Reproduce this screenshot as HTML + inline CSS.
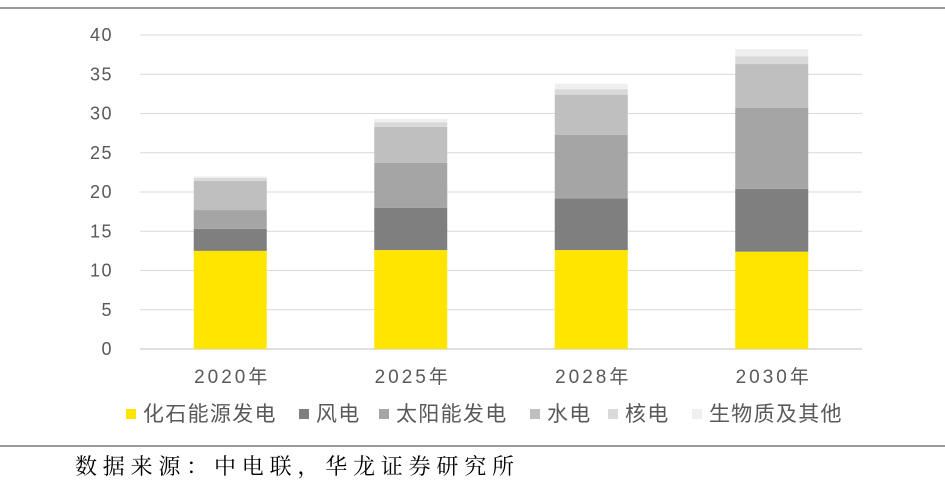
<!DOCTYPE html>
<html><head><meta charset="utf-8"><style>
body{margin:0;width:945px;height:485px;background:#fff;overflow:hidden;font-family:"Liberation Sans","Noto Sans CJK SC",sans-serif;}
</style></head><body>
<svg id="chart" width="945" height="485" xmlns="http://www.w3.org/2000/svg">
<line x1="0" y1="8" x2="945" y2="8" stroke="#333" stroke-width="1"/>
<line x1="0" y1="446" x2="945" y2="446" stroke="#333" stroke-width="1"/>
<g id="grid"></g><g id="bars"></g><g id="axis"></g><g id="legend"></g>
<text x="75" y="474" font-family="'Liberation Serif','Noto Serif CJK SC',serif" font-size="22" letter-spacing="5.8" fill="#000">数据来源：中电联，华龙证券研究所</text>
</svg>
<script>
const categories=["2020年","2025年","2028年","2030年"];
const seriesNames=["化石能源发电","风电","太阳能发电","水电","核电","生物质及其他"];
const fossil=[12.5,12.6,12.6,12.4];
const wind=[2.8,5.4,6.6,8.0];
const solar=[2.4,5.7,8.1,10.3];
const hydro=[3.7,4.6,5.1,5.6];
const nuclear=[0.4,0.6,0.7,1.0];
const biomass=[0.2,0.4,0.7,0.9];
const yTicks=[0,5,10,15,20,25,30,35,40];
const colors=["#FFE500","#7f7f7f","#a5a5a5","#bfbfbf","#d9d9d9","#efefef"];
const series=[fossil,wind,solar,hydro,nuclear,biomass];
const NS="http://www.w3.org/2000/svg";
const y0=349,yTop=35,yMax=40,x0=140,x1=862;
const y=v=>y0-(v/yMax)*(y0-yTop);
const band=(x1-x0)/categories.length, bw=73;
const xc=i=>x0+band*(i+0.5);
function mk(tag,attrs,parent){const e=document.createElementNS(NS,tag);for(const k in attrs)e.setAttribute(k,attrs[k]);parent.appendChild(e);return e;}
const grid=document.getElementById('grid'),bars=document.getElementById('bars'),axis=document.getElementById('axis'),legend=document.getElementById('legend');
yTicks.forEach(t=>{
 const l=mk('line',{x1:x0,x2:x1,y1:y(t),y2:y(t),stroke:t===0?'#bfbfbf':'#d9d9d9','stroke-width':1},grid);
 
 
 const tx=mk('text',{x:113,y:y(t)+6,'text-anchor':'end','font-size':18,'letter-spacing':1.5,fill:'#595959'},axis);
 tx.textContent=t;
 
 
});
categories.forEach((c,i)=>{
 let acc=0;
 series.forEach((s,j)=>{
  const r=mk('rect',{x:xc(i)-bw/2,y:y(acc+s[i]),width:bw,height:y(acc)-y(acc+s[i]),fill:colors[j]},bars);
  
  
  acc+=s[i];
 });
 const tx=mk('text',{x:xc(i)+2,y:383,'text-anchor':'middle','font-size':19,'letter-spacing':3,fill:'#595959'},axis);
 tx.textContent=c;
 
 
});
const lx=[126,299,379,530,608,692];
seriesNames.forEach((n,j)=>{
 const g=mk('g',{},legend);
 
 
 mk('rect',{x:lx[j],y:409,width:10,height:10,fill:colors[j]},g);
 const t=mk('text',{x:lx[j]+17,y:421,'font-size':21,'letter-spacing':1.3,fill:'#595959'},g);
 t.textContent=n;
});
</script>
</body></html>
